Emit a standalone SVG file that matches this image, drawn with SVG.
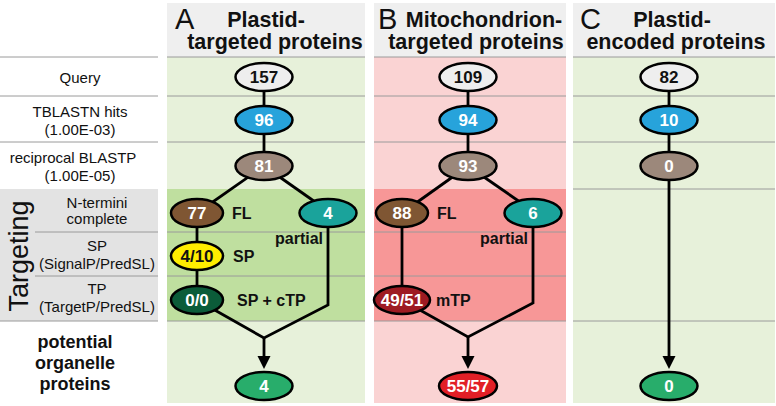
<svg xmlns="http://www.w3.org/2000/svg" width="776" height="406" viewBox="0 0 776 406">
<defs>
<style>
.lbl{font-family:"Liberation Sans",Arial,sans-serif;font-size:15px;fill:#111;text-anchor:middle}
.hdr{font-family:"Liberation Sans",Arial,sans-serif;font-size:21.5px;font-weight:bold;fill:#111;text-anchor:middle}
.let{font-family:"Liberation Sans",Arial,sans-serif;font-size:29px;fill:#111}
.num{font-family:"Liberation Sans",Arial,sans-serif;font-size:17px;font-weight:bold;text-anchor:middle}
.tag{font-family:"Liberation Sans",Arial,sans-serif;font-size:16px;font-weight:bold;fill:#111}
.pot{font-family:"Liberation Sans",Arial,sans-serif;font-size:18px;font-weight:bold;fill:#111;text-anchor:middle}
.row{stroke:#9a9a9a;stroke-width:1}
.node{stroke:#000;stroke-width:2.5}
.con{stroke:#000;stroke-width:2.8;fill:none}
.w{fill:#fff}
.k{fill:#111}
</style>
</defs>
<!-- left label column -->
<g id="labels">
<rect x="0" y="189" width="158" height="132" fill="#e3e3e3"/>
<line class="row" x1="0" y1="57" x2="158" y2="57"/>
<line class="row" x1="0" y1="96" x2="158" y2="96"/>
<line class="row" x1="0" y1="142" x2="158" y2="142"/>
<line class="row" x1="35" y1="232" x2="158" y2="232"/>
<line class="row" x1="35" y1="276" x2="158" y2="276"/>
<line class="row" x1="0" y1="321" x2="158" y2="321"/>
<text class="lbl" x="80" y="83">Query</text>
<text class="lbl" x="80" y="117">TBLASTN hits</text>
<text class="lbl" x="80" y="135">(1.00E-03)</text>
<text class="lbl" x="73" y="163">reciprocal BLASTP</text>
<text class="lbl" x="80" y="181">(1.00E-05)</text>
<text class="lbl" x="97" y="208">N-termini</text>
<text class="lbl" x="97" y="224">complete</text>
<text class="lbl" x="97" y="251">SP</text>
<text class="lbl" x="97" y="269">(SignalP/PredSL)</text>
<text class="lbl" x="97" y="294">TP</text>
<text class="lbl" x="97" y="312">(TargetP/PredSL)</text>
<text transform="translate(28,256) rotate(-90)" font-family="Liberation Sans, Arial, sans-serif" font-size="27" fill="#111" text-anchor="middle">Targeting</text>
<text class="pot" x="75" y="348">potential</text>
<text class="pot" x="75" y="369">organelle</text>
<text class="pot" x="75" y="390">proteins</text>
</g>
<!-- panel backgrounds -->
<g id="panelA">
<rect x="167" y="3" width="198" height="54" fill="#efefef"/>
<rect x="167" y="57" width="198" height="346" fill="#e7f1da"/>
<rect x="167" y="189" width="198" height="132" fill="#bfdf9f"/>
<line class="row" x1="167" y1="57" x2="365" y2="57" stroke="#777"/>
<line class="row" x1="167" y1="96" x2="365" y2="96"/>
<line class="row" x1="167" y1="142" x2="365" y2="142"/>
<line class="row" x1="167" y1="232" x2="365" y2="232"/>
<line class="row" x1="167" y1="276" x2="365" y2="276"/>
<line class="row" x1="167" y1="321" x2="365" y2="321"/>
<text class="let" x="175" y="29">A</text>
<text class="hdr" x="266" y="27">Plastid-</text>
<text class="hdr" x="275" y="49">targeted proteins</text>
</g>
<g id="panelB">
<rect x="374" y="3" width="192" height="54" fill="#efefef"/>
<rect x="374" y="57" width="192" height="346" fill="#fad3d3"/>
<rect x="374" y="189" width="192" height="132" fill="#f79797"/>
<line class="row" x1="374" y1="57" x2="566" y2="57" stroke="#777"/>
<line class="row" x1="374" y1="96" x2="566" y2="96"/>
<line class="row" x1="374" y1="142" x2="566" y2="142"/>
<line class="row" x1="374" y1="232" x2="566" y2="232" stroke="#c77"/>
<line class="row" x1="374" y1="276" x2="566" y2="276" stroke="#c77"/>
<line class="row" x1="374" y1="321" x2="566" y2="321"/>
<text class="let" x="378" y="29">B</text>
<text class="hdr" x="484" y="27">Mitochondrion-</text>
<text class="hdr" x="476" y="49">targeted proteins</text>
</g>
<g id="panelC">
<rect x="573" y="3" width="202" height="54" fill="#efefef"/>
<rect x="573" y="57" width="202" height="346" fill="#e7f1da"/>
<line class="row" x1="573" y1="57" x2="775" y2="57" stroke="#777"/>
<line class="row" x1="573" y1="96" x2="775" y2="96"/>
<line class="row" x1="573" y1="142" x2="775" y2="142"/>
<line class="row" x1="573" y1="189" x2="775" y2="189"/>
<line class="row" x1="573" y1="321" x2="775" y2="321"/>
<text class="let" x="580" y="29">C</text>
<text class="hdr" x="672" y="27">Plastid-</text>
<text class="hdr" x="676" y="49">encoded proteins</text>
</g>
<!-- connectors -->
<g id="connectors">
<line class="con" x1="264" y1="78" x2="264" y2="166"/>
<line class="con" x1="264" y1="166" x2="197" y2="213"/>
<line class="con" x1="264" y1="166" x2="328" y2="211"/>
<line class="con" x1="197" y1="213" x2="197" y2="300"/>
<polyline class="con" points="197,300 264,338 328,305 328,213"/>
<line class="con" x1="264" y1="338" x2="264" y2="358"/>
<polygon points="257.5,356 270.5,356 264,369" fill="#000"/>

<line class="con" x1="468" y1="78" x2="468" y2="166"/>
<line class="con" x1="468" y1="166" x2="402" y2="213"/>
<line class="con" x1="468" y1="166" x2="533" y2="211"/>
<line class="con" x1="402" y1="213" x2="402" y2="300"/>
<polyline class="con" points="402,300 468,337 533,303 533,213"/>
<line class="con" x1="468" y1="337" x2="468" y2="358"/>
<polygon points="461.5,356 474.5,356 468,369" fill="#000"/>

<line class="con" x1="669" y1="78" x2="669" y2="358"/>
<polygon points="662.5,356 675.5,356 669,369" fill="#000"/>
</g>
<!-- nodes panel A -->
<g id="a157"><ellipse class="node" cx="264" cy="77" rx="28.5" ry="14" fill="#eeeeee"/><text class="num k" x="264" y="83">157</text></g>
<g id="a96"><ellipse class="node" cx="264" cy="120" rx="28.5" ry="14" fill="#27a3db"/><text class="num w" x="264" y="126">96</text></g>
<g id="a81"><ellipse class="node" cx="264" cy="166" rx="28.5" ry="14" fill="#9c887b"/><text class="num w" x="264" y="172">81</text></g>
<g id="a77"><ellipse class="node" cx="197" cy="213" rx="26" ry="14" fill="#7f5633"/><text class="num w" x="197" y="219">77</text><text class="tag" x="232" y="219">FL</text></g>
<g id="a4p"><ellipse class="node" cx="328" cy="213" rx="28.5" ry="14" fill="#1aa39b"/><text class="num w" x="328" y="219">4</text><text class="tag" x="275" y="244">partial</text></g>
<g id="a410"><ellipse class="node" cx="197" cy="256" rx="26" ry="14" fill="#ffed00"/><text class="num k" x="197" y="262">4/10</text><text class="tag" x="233" y="262">SP</text></g>
<g id="a00"><ellipse class="node" cx="197" cy="300" rx="26" ry="14" fill="#0b5c39"/><text class="num w" x="197" y="306">0/0</text><text class="tag" x="237" y="306">SP + cTP</text></g>
<g id="a4"><ellipse class="node" cx="264" cy="386" rx="28.5" ry="14" fill="#28ad6b"/><text class="num w" x="264" y="392">4</text></g>
<!-- nodes panel B -->
<g id="b109"><ellipse class="node" cx="468" cy="77" rx="28.5" ry="14" fill="#eeeeee"/><text class="num k" x="468" y="83">109</text></g>
<g id="b94"><ellipse class="node" cx="468" cy="120" rx="28.5" ry="14" fill="#27a3db"/><text class="num w" x="468" y="126">94</text></g>
<g id="b93"><ellipse class="node" cx="468" cy="166" rx="28.5" ry="14" fill="#9c887b"/><text class="num w" x="468" y="172">93</text></g>
<g id="b88"><ellipse class="node" cx="402" cy="213" rx="26" ry="14" fill="#7f5633"/><text class="num w" x="402" y="219">88</text><text class="tag" x="437" y="219">FL</text></g>
<g id="b6"><ellipse class="node" cx="533" cy="213" rx="28.5" ry="14" fill="#1aa39b"/><text class="num w" x="533" y="219">6</text><text class="tag" x="480" y="244">partial</text></g>
<g id="b4951"><ellipse class="node" cx="402" cy="300" rx="28" ry="14" fill="#9e1b22"/><text class="num w" x="402" y="306">49/51</text><text class="tag" x="436" y="306">mTP</text></g>
<g id="b5557"><ellipse class="node" cx="468" cy="386" rx="29" ry="14" fill="#e21f26"/><text class="num w" x="468" y="392">55/57</text></g>
<!-- nodes panel C -->
<g id="c82"><ellipse class="node" cx="669" cy="77" rx="28.5" ry="14" fill="#eeeeee"/><text class="num k" x="669" y="83">82</text></g>
<g id="c10"><ellipse class="node" cx="669" cy="120" rx="28.5" ry="14" fill="#27a3db"/><text class="num w" x="669" y="126">10</text></g>
<g id="c0"><ellipse class="node" cx="669" cy="166" rx="28.5" ry="14" fill="#9c887b"/><text class="num w" x="669" y="172">0</text></g>
<g id="c0f"><ellipse class="node" cx="669" cy="386" rx="28.5" ry="14" fill="#28ad6b"/><text class="num w" x="669" y="392">0</text></g>
</svg>
